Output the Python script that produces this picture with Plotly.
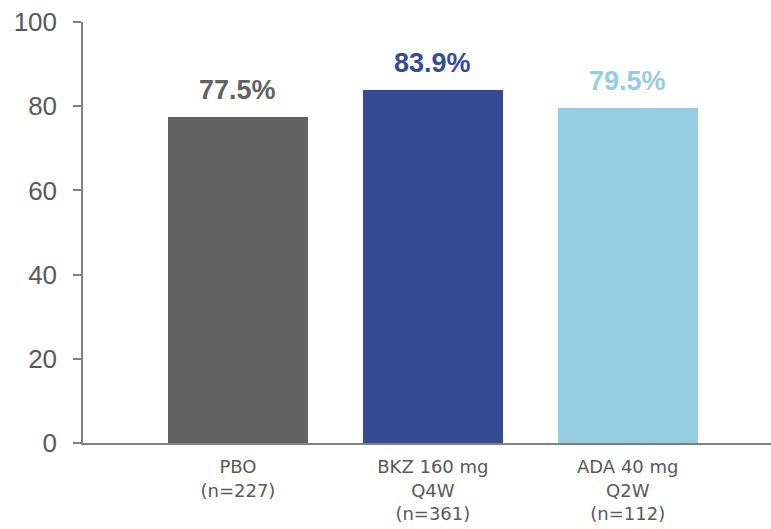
import plotly.graph_objects as go

categories = ["PBO<br>(n=227)", "BKZ 160 mg<br>Q4W<br>(n=361)", "ADA 40 mg<br>Q2W<br>(n=112)"]
values = [77.5, 83.9, 79.5]
labels = ["77.5%", "83.9%", "79.5%"]
colors = ["#626262", "#354B94", "#95CDE2"]
y_ticks = [0, 20, 40, 60, 80, 100]

fig = go.Figure()
fig.add_trace(go.Bar(
    x=categories, y=values, marker=dict(color=colors, line=dict(width=0)),
    width=0.718, showlegend=False, hoverinfo="skip",
))

for c, v, t, col in zip(categories, values, labels, colors):
    fig.add_annotation(x=c, y=v, text=t, showarrow=False, yanchor="middle", yshift=27,
                       font=dict(family="Liberation Sans, Arial", size=27, color=col, weight="bold"))

fig.update_layout(
    width=771, height=529,
    margin=dict(l=83, r=0, t=22, b=86),
    paper_bgcolor="white", plot_bgcolor="white",
    xaxis=dict(type="category", range=[-0.795, 2.735], showline=True, linecolor="#808080", linewidth=1.5,
               ticks="", tickfont=dict(family="DejaVu Sans", size=18, color="#595959"),
               showgrid=False, zeroline=False, ticklabelstandoff=7),
    yaxis=dict(range=[0, 100], tickvals=y_ticks, showline=True, linecolor="#808080", linewidth=1.5,
               ticks="outside", ticklen=8, tickcolor="#808080", tickwidth=1.5,
               tickfont=dict(family="Liberation Sans, Arial", size=26, color="#595959"),
               showgrid=False, zeroline=False, ticklabelstandoff=11),
    bargap=0,
)

fig.write_html("out.html")
